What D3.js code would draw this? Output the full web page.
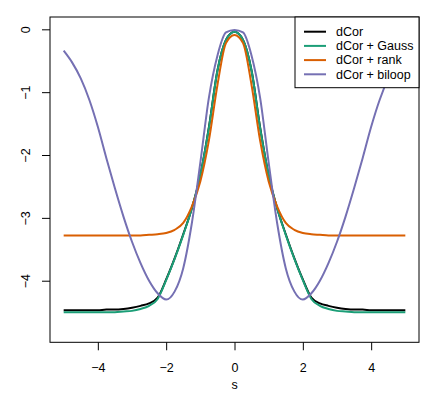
<!DOCTYPE html>
<html><head><meta charset="utf-8">
<script src="https://cdn.jsdelivr.net/npm/d3@7"></script>
<style>body{margin:0;background:#fff}svg{display:block}text{font-family:"Liberation Sans",Arial,Helvetica,sans-serif}</style>
</head><body><svg id="c" width="436" height="393"></svg>
<script>
const s = [-5,-4.75,-4.5,-4.25,-4,-3.75,-3.5,-3.25,-3,-2.75,-2.5,-2.25,-2,-1.75,-1.5,-1.25,-1,-0.75,-0.5,-0.25,0,
           0.25,0.5,0.75,1,1.25,1.5,1.75,2,2.25,2.5,2.75,3,3.25,3.5,3.75,4,4.25,4.5,4.75,5];
const dcor = [-4.47,-4.47,-4.47,-4.47,-4.47,-4.46,-4.46,-4.45,-4.43,-4.40,-4.36,-4.27,-3.98,-3.64,-3.26,-2.85,-2.32,-1.56,-0.66,-0.17,-0.04,
              -0.17,-0.66,-1.56,-2.32,-2.85,-3.26,-3.64,-3.98,-4.27,-4.36,-4.40,-4.43,-4.45,-4.46,-4.46,-4.47,-4.47,-4.47,-4.47,-4.47];
const gauss = [-4.50,-4.50,-4.50,-4.50,-4.50,-4.50,-4.50,-4.49,-4.48,-4.45,-4.40,-4.29,-3.99,-3.65,-3.27,-2.85,-2.32,-1.57,-0.66,-0.17,-0.04,
               -0.17,-0.66,-1.57,-2.32,-2.85,-3.27,-3.65,-3.99,-4.29,-4.40,-4.45,-4.48,-4.49,-4.50,-4.50,-4.50,-4.50,-4.50,-4.50,-4.50];
const rank = [-3.28,-3.28,-3.28,-3.28,-3.28,-3.28,-3.28,-3.28,-3.28,-3.28,-3.27,-3.26,-3.24,-3.19,-3.08,-2.82,-2.42,-1.77,-0.89,-0.22,-0.09,
              -0.22,-0.89,-1.77,-2.42,-2.82,-3.08,-3.19,-3.24,-3.26,-3.27,-3.28,-3.28,-3.28,-3.28,-3.28,-3.28,-3.28,-3.28,-3.28,-3.28];
const biloop = [-0.34,-0.53,-0.78,-1.12,-1.55,-2.05,-2.53,-2.98,-3.38,-3.72,-4.00,-4.20,-4.30,-4.17,-3.80,-3.09,-2.12,-1.09,-0.42,-0.05,-0.01,
                -0.05,-0.42,-1.09,-2.12,-3.09,-3.80,-4.17,-4.30,-4.20,-4.00,-3.72,-3.38,-2.98,-2.53,-2.05,-1.55,-1.12,-0.78,-0.53,-0.34];
const seriesNames = ["dCor","dCor + Gauss","dCor + rank","dCor + biloop"];
const seriesColors = ["#000000","#1B9E77","#D95F02","#7570B3"];
const seriesValues = [dcor, gauss, rank, biloop];
const xTicks = [-4,-2,0,2,4];
const yTicks = [0,-1,-2,-3,-4];
const xLabel = "s";

const FS = 12.5;
const svg = d3.select("#c");
const L=50, R=419, T=17, B=342.3;
const x = d3.scaleLinear().domain([-5.4,5.4]).range([L,R]);
const y = d3.scaleLinear().domain([-4.98,0.196]).range([B,T]);
const fmt = v => v<0 ? "\u2212"+Math.abs(v) : String(v);

svg.append("clipPath").attr("id","clip").append("rect").attr("x",L).attr("y",T).attr("width",R-L).attr("height",B-T);
const line = d3.line().x((d,i)=>x(s[i])).y(d=>y(d)).curve(d3.curveMonotoneX);
const g = svg.append("g").attr("clip-path","url(#clip)");
seriesValues.forEach((vals,k)=>{
  g.append("path").attr("d",line(vals)).attr("fill","none").attr("stroke",seriesColors[k]).attr("stroke-width",2).attr("stroke-linejoin","round");
});

const xa = svg.append("g").attr("transform",`translate(0,${B})`).call(d3.axisBottom(x).tickValues(xTicks).tickFormat(fmt).tickSize(8).tickPadding(13));
const ya = svg.append("g").attr("transform",`translate(${L},0)`).call(d3.axisLeft(y).tickValues(yTicks).tickFormat(fmt).tickSize(8).tickPadding(0));
[xa,ya].forEach(a=>{a.select(".domain").remove();a.selectAll("line").attr("stroke","#000");a.selectAll("text").attr("font-size",FS).attr("fill","#000").attr("font-family",'"Liberation Sans",Arial,sans-serif');});
ya.selectAll(".tick text").attr("transform","rotate(-90)").attr("x",0).attr("y",-24).attr("dy","0.35em").attr("text-anchor","middle");
svg.append("text").attr("x",x(0)).attr("y",389).attr("text-anchor","middle").attr("font-size",FS).text(xLabel);

svg.append("rect").attr("x",L).attr("y",T).attr("width",R-L).attr("height",B-T).attr("fill","none").attr("stroke","#000").attr("stroke-width",1);

const lg = svg.append("g");
lg.append("rect").attr("x",295).attr("y",T).attr("width",R-295).attr("height",70.7).attr("fill","#fff").attr("stroke","#000").attr("stroke-width",1);
seriesNames.forEach((n,k)=>{
  const yy = 31.7 + k*14.2;
  lg.append("line").attr("x1",304).attr("x2",326).attr("y1",yy).attr("y2",yy).attr("stroke",seriesColors[k]).attr("stroke-width",2);
  lg.append("text").attr("x",336).attr("y",yy).attr("dy","0.35em").attr("font-size",FS).text(n);
});
</script></body></html>
